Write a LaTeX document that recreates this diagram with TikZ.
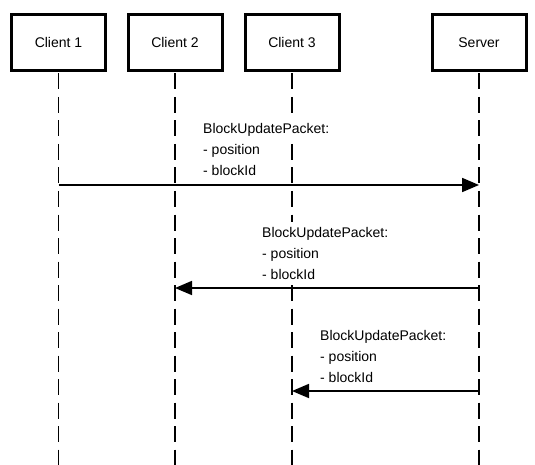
\documentclass[tikz,border=0pt]{standalone}
\usepackage{fontspec}
\setmainfont{Liberation Sans}
\usetikzlibrary{arrows.meta}
\tikzset{
  actor/.style={draw=black, line width=3pt, fill=white, minimum width=94pt, minimum height=56pt, inner sep=0pt, font=\fontsize{14}{17}\selectfont},
  lifeline/.style={draw=black, line width=1.8pt, dash pattern=on 16pt off 7.5pt},
  msg/.style={draw=black, line width=1.8pt, -{Triangle[length=17pt,width=14pt]}},
  msgline/.style={anchor=base west, inner xsep=0pt, inner ysep=0pt, fill=white, text height=15pt, text depth=6pt, font=\fontsize{14}{21}\selectfont}
}
\begin{document}
\begin{tikzpicture}[x=1pt,y=-1pt]
\useasboundingbox (0,0) rectangle (535,465);
% actors
\node[actor] (c1) at (58.5,42.5) {Client 1};
\node[actor] (c2) at (175,42.5) {Client 2};
\node[actor] (c3) at (292,42.5) {Client 3};
\node[actor] (sv) at (479,42.5) {Server};
% lifeline ends
\coordinate (c1e) at (58.5,465);
\coordinate (c2e) at (175,465);
\coordinate (c3e) at (292,465);
\coordinate (sve) at (479,465);
\draw[lifeline] ([yshift=-1.5pt]c1.south) -- (c1e);
\draw[lifeline] ([yshift=-1.5pt]c2.south) -- (c2e);
\draw[lifeline] ([yshift=-1.5pt]c3.south) -- (c3e);
\draw[lifeline] ([yshift=-1.5pt]sv.south) -- (sve);
% message points
\coordinate (m1a) at (58.5,185);
\coordinate (m1b) at (479,185);
\coordinate (m2a) at (479,288);
\coordinate (m2b) at (175,288);
\coordinate (m3a) at (479,391);
\coordinate (m3b) at (292,391);
\draw[msg] (m1a) -- (m1b);
\draw[msg] (m2a) -- (m2b);
\draw[msg] (m3a) -- (m3b);
% labels (each line on its own white background)
\node[msgline] (l1a) at (203,134) {BlockUpdatePacket:};
\node[msgline] (l1b) at (203,155) {- position};
\node[msgline] (l1c) at (203,176) {- blockId};
\node[msgline] (l2a) at (262,237) {BlockUpdatePacket:};
\node[msgline] (l2b) at (262,258) {- position};
\node[msgline] (l2c) at (262,279) {- blockId};
\node[msgline] (l3a) at (320,340) {BlockUpdatePacket:};
\node[msgline] (l3b) at (320,361) {- position};
\node[msgline] (l3c) at (320,382) {- blockId};
\end{tikzpicture}
\end{document}
